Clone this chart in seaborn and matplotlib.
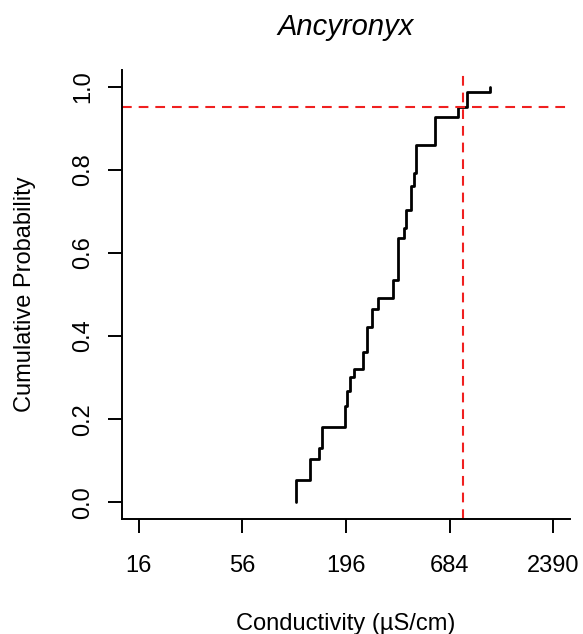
import numpy as np
import seaborn as sns
import matplotlib
matplotlib.use("Agg")
import matplotlib.pyplot as plt

# Dados (ECDF da condutividade)
conductivity = [106.3, 126.3, 140.3, 147.2, 192.6, 198.3, 204.6, 214.7, 240.5,
                252.4, 269.0, 288.1, 345.3, 365.0, 392.4, 403.9, 429.0, 446.4,
                457.3, 570.4, 752.6, 843.0, 1116.5]
cum_prob = [0.053, 0.105, 0.130, 0.181, 0.232, 0.268, 0.302, 0.320, 0.361,
            0.422, 0.465, 0.492, 0.534, 0.635, 0.659, 0.704, 0.762, 0.792,
            0.860, 0.928, 0.952, 0.986, 1.0]
x_ticks = [16, 56, 196, 684, 2390]
y_ticks = [0.0, 0.2, 0.4, 0.6, 0.8, 1.0]
q95_value = 800
q95_prob = 0.95
title = "Ancyronyx"

sns.set_style("ticks")
plt.rcParams["font.family"] = ["Liberation Sans", "DejaVu Sans"]
plt.rcParams["text.color"] = "black"
plt.rcParams["axes.labelcolor"] = "black"
plt.rcParams["lines.scale_dashes"] = False

fig, ax = plt.subplots(figsize=(5.83, 6.34), dpi=100)
plt.subplots_adjust(left=0.2093, right=0.9777, bottom=0.1814, top=0.8896)

# Curva em degraus começando em zero
xs = [conductivity[0]] + conductivity
ys = [0.0] + cum_prob
sns.lineplot(x=xs, y=ys, estimator=None, sort=False, drawstyle="steps-post",
             color="black", linewidth=2.0, ax=ax)

# Linhas de referência do percentil 95
ax.axhline(q95_prob, color="#F02020", linestyle=(0, (7, 5)), linewidth=1.5)
ax.axvline(q95_value, color="#F02020", linestyle=(0, (7, 5)), linewidth=1.5)

# Eixos no estilo do R (extensão de 4%)
ax.set_xscale("log")
lo, hi = np.log10(x_ticks[0]), np.log10(x_ticks[-1])
pad = 0.04 * (hi - lo)
ax.set_xlim(10 ** (lo - pad), 10 ** (hi + pad))
ax.set_ylim(-0.04, 1.04)
ax.set_xticks(x_ticks)
ax.set_xticklabels([str(t) for t in x_ticks])
ax.xaxis.set_minor_locator(matplotlib.ticker.NullLocator())
ax.set_yticks(y_ticks)
ax.set_yticklabels([f"{t:.1f}" for t in y_ticks])

ax.tick_params(axis="both", direction="out", length=10, width=1.4,
               labelsize=17, color="black", labelcolor="black")
ax.tick_params(axis="x", pad=16)
ax.tick_params(axis="y", pad=10, labelrotation=90)
for lab in ax.get_yticklabels():
    lab.set_verticalalignment("center")

for side in ["top", "right"]:
    ax.spines[side].set_visible(False)
for side in ["left", "bottom"]:
    ax.spines[side].set_linewidth(1.4)
    ax.spines[side].set_color("black")

ax.set_xlabel("Conductivity (µS/cm)", fontsize=17, labelpad=26)
ax.set_ylabel("Cumulative Probability", fontsize=17, labelpad=26)
ax.set_title(title, fontsize=21, fontstyle="italic", pad=25)

fig.savefig("out.png", dpi=100)
